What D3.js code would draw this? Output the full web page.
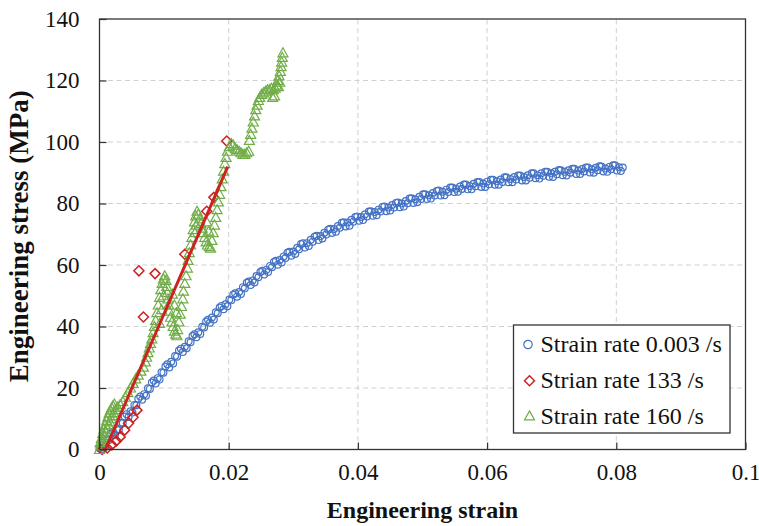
<!DOCTYPE html>
<html lang="en">
<head>
<meta charset="UTF-8">
<title>Engineering stress-strain</title>
<style>
  html, body { margin: 0; padding: 0; background: #fff; }
  svg { display: block; font-family: "Liberation Serif", "Times New Roman", serif; }
</style>
</head>
<body>
<svg id="svg" width="759" height="526"></svg>
<script src="https://d3js.org/d3.v7.min.js"></script>
<script>
// axis ticks
const xTicks = [0, 0.02, 0.04, 0.06, 0.08, 0.1];
const xTickLabels = ["0", "0.02", "0.04", "0.06", "0.08", "0.1"];
const yTicks = [0, 20, 40, 60, 80, 100, 120, 140];

// strain rate 0.003 /s (quasi-static), dense scatter that forms a thick band
const blueStrain = [
  0.0000, 0.0003, 0.0006, 0.0009, 0.0012, 0.0015, 0.0018, 0.0021, 0.0024, 0.0027,
  0.0030, 0.0033, 0.0036, 0.0039, 0.0042, 0.0045, 0.0048, 0.0051, 0.0054, 0.0057,
  0.0060, 0.0063, 0.0066, 0.0069, 0.0072, 0.0075, 0.0078, 0.0081, 0.0084, 0.0087,
  0.0090, 0.0093, 0.0096, 0.0099, 0.0102, 0.0105, 0.0108, 0.0111, 0.0114, 0.0117,
  0.0120, 0.0123, 0.0126, 0.0129, 0.0132, 0.0135, 0.0138, 0.0141, 0.0144, 0.0147,
  0.0150, 0.0153, 0.0156, 0.0159, 0.0162, 0.0165, 0.0168, 0.0171, 0.0174, 0.0177,
  0.0180, 0.0183, 0.0186, 0.0189, 0.0192, 0.0195, 0.0198, 0.0201, 0.0204, 0.0207,
  0.0210, 0.0213, 0.0216, 0.0219, 0.0222, 0.0225, 0.0228, 0.0231, 0.0234, 0.0237,
  0.0240, 0.0243, 0.0246, 0.0249, 0.0252, 0.0255, 0.0258, 0.0261, 0.0264, 0.0267,
  0.0270, 0.0273, 0.0276, 0.0279, 0.0282, 0.0285, 0.0288, 0.0291, 0.0294, 0.0297,
  0.0300, 0.0303, 0.0306, 0.0309, 0.0312, 0.0315, 0.0318, 0.0321, 0.0324, 0.0327,
  0.0330, 0.0333, 0.0336, 0.0339, 0.0342, 0.0345, 0.0348, 0.0351, 0.0354, 0.0357,
  0.0360, 0.0363, 0.0366, 0.0369, 0.0372, 0.0375, 0.0378, 0.0381, 0.0384, 0.0387,
  0.0390, 0.0393, 0.0396, 0.0399, 0.0402, 0.0405, 0.0408, 0.0411, 0.0414, 0.0417,
  0.0420, 0.0423, 0.0426, 0.0429, 0.0432, 0.0435, 0.0438, 0.0441, 0.0444, 0.0447,
  0.0450, 0.0453, 0.0456, 0.0459, 0.0462, 0.0465, 0.0468, 0.0471, 0.0474, 0.0477,
  0.0480, 0.0483, 0.0486, 0.0489, 0.0492, 0.0495, 0.0498, 0.0501, 0.0504, 0.0507,
  0.0510, 0.0513, 0.0516, 0.0519, 0.0522, 0.0525, 0.0528, 0.0531, 0.0534, 0.0537,
  0.0540, 0.0543, 0.0546, 0.0549, 0.0552, 0.0555, 0.0558, 0.0561, 0.0564, 0.0567,
  0.0570, 0.0573, 0.0576, 0.0579, 0.0582, 0.0585, 0.0588, 0.0591, 0.0594, 0.0597,
  0.0600, 0.0603, 0.0606, 0.0609, 0.0612, 0.0615, 0.0618, 0.0621, 0.0624, 0.0627,
  0.0630, 0.0633, 0.0636, 0.0639, 0.0642, 0.0645, 0.0648, 0.0651, 0.0654, 0.0657,
  0.0660, 0.0663, 0.0666, 0.0669, 0.0672, 0.0675, 0.0678, 0.0681, 0.0684, 0.0687,
  0.0690, 0.0693, 0.0696, 0.0699, 0.0702, 0.0705, 0.0708, 0.0711, 0.0714, 0.0717,
  0.0720, 0.0723, 0.0726, 0.0729, 0.0732, 0.0735, 0.0738, 0.0741, 0.0744, 0.0747,
  0.0750, 0.0753, 0.0756, 0.0759, 0.0762, 0.0765, 0.0768, 0.0771, 0.0774, 0.0777,
  0.0780, 0.0783, 0.0786, 0.0789, 0.0792, 0.0795, 0.0798, 0.0801, 0.0804, 0.0807,
  0.0810
];
const blueStress = [
  0.4, 0.0, 1.6, 1.0, 3.3, 3.1, 5.1, 5.7, 4.8, 6.6,
  6.3, 8.7, 8.6, 10.7, 11.5, 10.6, 12.4, 12.0, 14.5, 14.4,
  16.5, 17.2, 16.2, 18.0, 17.5, 19.9, 19.7, 21.8, 22.4, 21.5,
  23.2, 22.8, 25.1, 25.0, 27.0, 27.7, 26.7, 28.5, 28.0, 30.4,
  30.2, 32.2, 32.8, 31.7, 33.4, 32.9, 35.2, 34.9, 36.9, 37.5,
  36.5, 38.1, 37.6, 39.9, 39.7, 41.6, 42.2, 41.2, 42.9, 42.3,
  44.6, 44.3, 46.2, 46.7, 45.6, 47.2, 46.6, 48.8, 48.5, 50.3,
  50.8, 49.7, 51.2, 50.6, 52.8, 52.4, 54.2, 54.6, 53.5, 55.0,
  54.3, 56.4, 56.0, 57.7, 58.1, 56.9, 58.4, 57.7, 59.7, 59.3,
  61.0, 61.4, 60.1, 61.6, 60.8, 62.8, 62.3, 64.0, 64.3, 63.0,
  64.4, 63.6, 65.6, 65.1, 66.8, 67.1, 65.7, 67.1, 66.2, 68.2,
  67.6, 69.2, 69.5, 68.1, 69.4, 68.6, 70.5, 69.9, 71.5, 71.8,
  70.4, 71.7, 70.8, 72.7, 72.1, 73.7, 73.9, 72.5, 73.8, 72.8,
  74.7, 74.1, 75.6, 75.8, 74.4, 75.6, 74.6, 76.5, 75.8, 77.4,
  77.5, 76.0, 77.2, 76.2, 78.0, 77.4, 78.9, 79.0, 77.5, 78.7,
  77.7, 79.5, 78.7, 80.2, 80.3, 78.8, 80.0, 79.0, 80.8, 80.1,
  81.6, 81.7, 80.2, 81.4, 80.4, 82.2, 81.5, 83.0, 83.0, 81.5,
  82.7, 81.6, 83.4, 82.6, 84.1, 84.2, 82.6, 83.8, 82.7, 84.5,
  83.7, 85.2, 85.2, 83.7, 84.8, 83.8, 85.5, 84.7, 86.2, 86.2,
  84.6, 85.7, 84.6, 86.4, 85.6, 87.0, 87.0, 85.4, 86.5, 85.4,
  87.1, 86.3, 87.7, 87.7, 86.1, 87.2, 86.1, 87.8, 87.0, 88.5,
  88.5, 86.9, 88.0, 86.9, 88.6, 87.8, 89.1, 89.1, 87.5, 88.6,
  87.5, 89.2, 88.4, 89.8, 89.8, 88.2, 89.2, 88.1, 89.8, 89.0,
  90.3, 90.3, 88.7, 89.8, 88.6, 90.3, 89.5, 90.9, 90.8, 89.2,
  90.3, 89.1, 90.8, 90.0, 91.3, 91.3, 89.6, 90.7, 89.6, 91.2,
  90.4, 91.7, 91.7, 90.1, 91.1, 90.0, 91.6, 90.8, 92.1, 92.0,
  90.4, 91.4, 90.3, 91.9, 91.1, 92.4, 92.4, 90.7, 91.8, 90.6,
  91.7
];

// strain rate 133 /s: markers and the straight red line
const redStrain = [0.0004, 0.0012, 0.0019, 0.0026, 0.0032, 0.0039, 0.0045, 0.0052, 0.0058,
  0.0061, 0.0068, 0.0086, 0.0132, 0.0166, 0.0177, 0.0197];
const redStress = [0.0, 0.5, 1.5, 2.8, 4.1, 6.3, 8.5, 10.5, 12.8,
  58.1, 43.1, 57.2, 63.5, 77.5, 82.0, 100.3];
const redLineStrain = [0.0009, 0.01985];
const redLineStress = [0, 92.0];

// strain rate 160 /s
const greenStrain = [
  0.0000, 0.0002, 0.0004, 0.0006, 0.0008, 0.0010, 0.0012, 0.0014, 0.0016, 0.0018,
  0.0020, 0.0022, 0.0025, 0.0028, 0.0032, 0.0036, 0.0040, 0.0044, 0.0048, 0.0052,
  0.0056, 0.0060, 0.0064, 0.0068, 0.0071, 0.0073, 0.0075, 0.0077, 0.0079, 0.0081,
  0.0083, 0.0085, 0.0087, 0.0089, 0.0091, 0.0093, 0.0095, 0.0097, 0.0099, 0.0101,
  0.0103, 0.0104, 0.0105, 0.0106, 0.0107, 0.0108, 0.0110, 0.0112, 0.0114, 0.0116,
  0.0118, 0.0120, 0.0121, 0.0123, 0.0125, 0.0127, 0.0129, 0.0130, 0.0132, 0.0134,
  0.0136, 0.0137, 0.0139, 0.0141, 0.0143, 0.0145, 0.0147, 0.0149, 0.0151, 0.0153,
  0.0155, 0.0157, 0.0159, 0.0161, 0.0163, 0.0165, 0.0167, 0.0170, 0.0172, 0.0174,
  0.0176, 0.0178, 0.0180, 0.0182, 0.0184, 0.0186, 0.0188, 0.0190, 0.0192, 0.0194,
  0.0196, 0.0198, 0.0201, 0.0204, 0.0207, 0.0210, 0.0213, 0.0216, 0.0219, 0.0222,
  0.0225, 0.0228, 0.0231, 0.0232, 0.0234, 0.0236, 0.0238, 0.0240, 0.0242, 0.0244,
  0.0246, 0.0248, 0.0251, 0.0254, 0.0257, 0.0260, 0.0263, 0.0266, 0.0269, 0.0272,
  0.0274, 0.0276, 0.0278, 0.0280, 0.0281, 0.0282, 0.0283, 0.0284,
  0.0001, 0.0003, 0.0005, 0.0007, 0.0009, 0.0011, 0.0013, 0.0015, 0.0017, 0.0019,
  0.0021, 0.0023, 0.0093, 0.0096, 0.0099, 0.0113, 0.0116, 0.0119, 0.0148, 0.0150,
  0.0166, 0.0169, 0.0268, 0.0271, 0.0277, 0.0279
];
const greenStress = [
  0.0, 1.2, 2.4, 3.5, 4.6, 5.8, 7.0, 8.0, 9.0, 10.0,
  11.0, 12.0, 13.0, 13.8, 14.6, 15.6, 17.0, 18.5, 20.0, 21.5,
  23.0, 24.2, 25.5, 26.8, 28.5, 30.0, 31.5, 33.0, 34.5, 36.0,
  38.0, 40.0, 42.0, 44.5, 47.0, 49.5, 52.0, 54.0, 55.5, 56.5,
  55.0, 53.0, 51.0, 49.0, 47.0, 45.0, 43.0, 41.5, 40.0, 38.5,
  37.5, 37.0, 39.0, 41.5, 44.0, 46.5, 49.0, 51.5, 54.0, 56.5,
  59.0, 61.5, 64.0, 66.5, 69.0, 71.5, 74.0, 76.0, 77.5, 76.5,
  75.0, 73.5, 72.0, 70.5, 69.0, 67.5, 66.5, 66.0, 65.5, 68.0,
  70.5, 73.0, 75.5, 78.0, 80.5, 83.0, 85.5, 88.0, 90.5, 93.0,
  95.0, 97.0, 98.5, 99.5, 99.0, 98.0, 97.5, 97.0, 96.5, 96.0,
  96.0, 96.5, 97.0, 100.5, 102.5, 104.5, 106.5, 108.5, 110.5, 112.0,
  113.5, 114.5, 115.5, 116.0, 116.5, 117.0, 117.0, 117.5, 117.0, 117.5,
  118.5, 120.0, 121.5, 123.0, 124.5, 126.0, 127.5, 129.0,
  2.2, 3.6, 5.2, 6.6, 8.0, 9.4, 10.6, 11.8, 12.8, 13.6,
  14.2, 14.8, 41.0, 45.5, 50.0, 50.5, 47.0, 44.5, 70.5, 73.0,
  74.0, 71.0, 114.5, 115.0, 118.0, 119.5
];

const seriesNames = ["Strain rate 0.003 /s", "Strian rate 133 /s", "Strain rate 160 /s"];
const seriesColors = ["#4472C4", "#CC2222", "#70AD47"];

const svg = d3.select("#svg");
const W = 759, H = 526;
const margin = { top: 19, right: 13.5, bottom: 76.5, left: 99.5 };

svg.append("rect").attr("width", W).attr("height", H).attr("fill", "#fff");

const x = d3.scaleLinear().domain([0, 0.1]).range([margin.left, W - margin.right]);
const y = d3.scaleLinear().domain([0, 140]).range([H - margin.bottom, margin.top]);

// dashed gridlines
const grid = svg.append("g").attr("stroke", "#D0D0D0").attr("stroke-dasharray", "5,3.5");
grid.selectAll(".gx").data(xTicks.slice(1, -1)).join("line")
  .attr("x1", d => x(d)).attr("x2", d => x(d))
  .attr("y1", y(0)).attr("y2", y(140));
grid.selectAll(".gy").data(yTicks.slice(1, -1)).join("line")
  .attr("x1", x(0)).attr("x2", x(0.1))
  .attr("y1", d => y(d)).attr("y2", d => y(d));

// marker shapes
const diamond = "M0,-5L5,0L0,5L-5,0Z";
const triangle = "M0,-5L5,4L-5,4Z";

const blue = blueStrain.map((s, i) => ({ s, v: blueStress[i] }));
const red = redStrain.map((s, i) => ({ s, v: redStress[i] }));
const redLine = redLineStrain.map((s, i) => ({ s, v: redLineStress[i] }));
const green = greenStrain.map((s, i) => ({ s, v: greenStress[i] }));

svg.append("g").selectAll("circle").data(blue).join("circle")
  .attr("cx", d => x(d.s)).attr("cy", d => y(d.v)).attr("r", 3.4)
  .attr("fill", "none").attr("stroke", seriesColors[0]).attr("stroke-width", 1.2);

svg.append("g").selectAll("path").data(red).join("path")
  .attr("d", diamond)
  .attr("transform", d => `translate(${x(d.s)},${y(d.v)})`)
  .attr("fill", "none").attr("stroke", seriesColors[1]).attr("stroke-width", 1.5);

svg.append("g").selectAll("path").data(green).join("path")
  .attr("d", triangle)
  .attr("transform", d => `translate(${x(d.s)},${y(d.v)})`)
  .attr("fill", "none").attr("stroke", seriesColors[2]).attr("stroke-width", 1.2);

svg.append("path").datum(redLine)
  .attr("fill", "none").attr("stroke", seriesColors[1]).attr("stroke-width", 3)
  .attr("d", d3.line().x(d => x(d.s)).y(d => y(d.v)));

// axes, ticks pointing inside
const bottomAxis = d3.axisBottom(x).tickValues(xTicks)
  .tickFormat((d, i) => xTickLabels[i]).tickSizeInner(-7).tickSizeOuter(0).tickPadding(14);
const gx = svg.append("g").attr("transform", `translate(0,${y(0)})`).call(bottomAxis);
const leftAxis = d3.axisLeft(y).tickValues(yTicks).tickSizeInner(-7).tickSizeOuter(0).tickPadding(20);
const gy = svg.append("g").attr("transform", `translate(${x(0)},0)`).call(leftAxis);
[gx, gy].forEach(g => {
  g.select(".domain").remove();
  g.selectAll(".tick line").attr("stroke", "#333").attr("stroke-width", 1.2);
  g.selectAll("text").attr("font-family", "'Liberation Serif', 'Times New Roman', serif")
    .attr("font-size", 23).attr("fill", "#111");
});

// plot frame
svg.append("rect")
  .attr("x", x(0)).attr("y", y(140))
  .attr("width", x(0.1) - x(0)).attr("height", y(0) - y(140))
  .attr("fill", "none").attr("stroke", "#333").attr("stroke-width", 1.3);

// axis titles
svg.append("text")
  .attr("x", (x(0) + x(0.1)) / 2).attr("y", 518)
  .attr("text-anchor", "middle").attr("font-weight", "bold").attr("font-size", 24)
  .attr("fill", "#111").text("Engineering strain");
svg.append("text")
  .attr("transform", `translate(28,${(y(0) + y(140)) / 2 + 2}) rotate(-90)`)
  .attr("text-anchor", "middle").attr("font-weight", "bold").attr("font-size", 27)
  .attr("fill", "#111").text("Engineering stress (MPa)");

// legend
const lg = svg.append("g").attr("transform", "translate(513.5,325)");
lg.append("rect").attr("width", 216.5).attr("height", 108)
  .attr("fill", "#fff").attr("stroke", "#333").attr("stroke-width", 1.3);
const rows = lg.selectAll(".row").data(seriesNames).join("g")
  .attr("transform", (d, i) => `translate(0,${19.5 + i * 36.2})`);
rows.append("text").attr("x", 27).attr("y", 7.5)
  .attr("font-size", 24).attr("fill", "#111").text(d => d);
rows.filter((d, i) => i === 0).append("circle").attr("cx", 14.5).attr("r", 4.2)
  .attr("fill", "none").attr("stroke", seriesColors[0]).attr("stroke-width", 1.2);
rows.filter((d, i) => i === 1).append("path").attr("d", diamond)
  .attr("transform", "translate(16,0)")
  .attr("fill", "none").attr("stroke", seriesColors[1]).attr("stroke-width", 1.5);
rows.filter((d, i) => i === 2).append("path").attr("d", triangle)
  .attr("transform", "translate(16,-1)")
  .attr("fill", "none").attr("stroke", seriesColors[2]).attr("stroke-width", 1.2);
</script>
</body>
</html>
